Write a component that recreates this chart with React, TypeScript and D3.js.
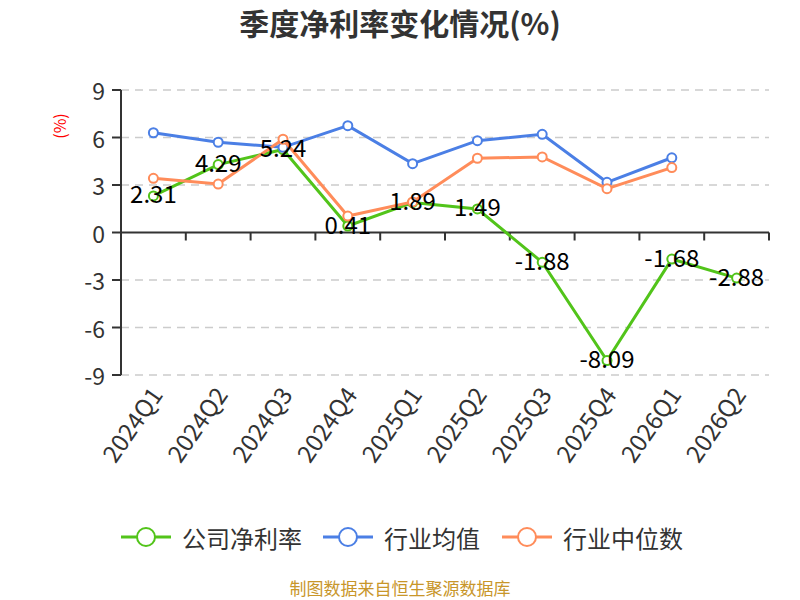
import * as d3 from 'd3';
import React, { useEffect, useRef } from 'react';

const quarters = ['2024Q1', '2024Q2', '2024Q3', '2024Q4', '2025Q1', '2025Q2', '2025Q3', '2025Q4', '2026Q1', '2026Q2'];
const companyRate = [2.31, 4.29, 5.24, 0.41, 1.89, 1.49, -1.88, -8.09, -1.68, -2.88];
const industryAvg = [6.3, 5.7, 5.38, 6.75, 4.35, 5.8, 6.2, 3.17, 4.72];
const industryMedian = [3.42, 3.06, 5.89, 1.04, 1.93, 4.69, 4.77, 2.77, 4.1];
const yTicks = [-9, -6, -3, 0, 3, 6, 9];
const seriesNames = ['公司净利率', '行业均值', '行业中位数'];
const colors = ['#52c41a', '#4b7fe5', '#ff8c5a'];

const FONT = '"Noto Sans CJK SC", "Noto Sans", sans-serif';

function App() {
  const svgRef = useRef<SVGSVGElement>(null);

  useEffect(() => {
    const w = 800;
    const h = 600;
    const left = 121;
    const right = 769;
    const top = 90;
    const bottom = 375;

    const svg = d3.select(svgRef.current).attr('width', w).attr('height', h);
    svg.selectAll('*').remove();

    const x = d3.scaleBand<string>().domain(quarters).range([left, right]);
    const y = d3.scaleLinear().domain([-9, 9]).range([bottom, top]);
    const cx = (i: number) => (x(quarters[i]) as number) + x.bandwidth() / 2;

    // title
    svg
      .append('text')
      .attr('x', 400)
      .attr('y', 22)
      .attr('text-anchor', 'middle')
      .attr('dominant-baseline', 'central')
      .attr('font-family', FONT)
      .attr('font-weight', 'bold')
      .attr('font-size', 30)
      .attr('fill', '#333')
      .text('季度净利率变化情况(%)');

    // grid
    svg
      .selectAll('.grid')
      .data(yTicks.filter((t) => t !== 0))
      .join('line')
      .attr('x1', left)
      .attr('x2', right)
      .attr('y1', (d) => y(d))
      .attr('y2', (d) => y(d))
      .attr('stroke', '#ccc')
      .attr('stroke-width', 1.5)
      .attr('stroke-dasharray', '8,6');

    // y axis
    const yAxis = svg.append('g').attr('transform', `translate(${left},0)`);
    yAxis.append('line').attr('y1', top).attr('y2', bottom).attr('stroke', '#333').attr('stroke-width', 2);
    yAxis
      .selectAll('.yt')
      .data(yTicks)
      .join('line')
      .attr('x1', -9)
      .attr('x2', 0)
      .attr('y1', (d) => y(d))
      .attr('y2', (d) => y(d))
      .attr('stroke', '#333')
      .attr('stroke-width', 2);
    yAxis
      .selectAll('.yl')
      .data(yTicks)
      .join('text')
      .attr('x', -16)
      .attr('y', (d) => y(d))
      .attr('text-anchor', 'end')
      .attr('dominant-baseline', 'central')
      .attr('font-family', FONT)
      .attr('font-size', 23)
      .attr('fill', '#333')
      .text((d) => d);

    svg
      .append('text')
      .attr('transform', `translate(59,126) rotate(-90)`)
      .attr('text-anchor', 'middle')
      .attr('dominant-baseline', 'central')
      .attr('font-family', FONT)
      .attr('font-size', 16)
      .attr('fill', 'red')
      .text('(%)');

    // x axis at zero
    const x0 = y(0);
    svg.append('line').attr('x1', left).attr('x2', right).attr('y1', x0).attr('y2', x0).attr('stroke', '#333').attr('stroke-width', 2);
    svg
      .selectAll('.xt')
      .data(d3.range(1, quarters.length + 1))
      .join('line')
      .attr('x1', (i) => left + i * x.bandwidth())
      .attr('x2', (i) => left + i * x.bandwidth())
      .attr('y1', x0)
      .attr('y2', x0 + 8)
      .attr('stroke', '#333')
      .attr('stroke-width', 2);
    svg
      .selectAll('.xl')
      .data(quarters)
      .join('text')
      .attr('transform', (d, i) => `translate(${cx(i) + 2},${bottom + 14}) rotate(-55)`)
      .attr('text-anchor', 'end')
      .attr('dominant-baseline', 'central')
      .attr('font-family', FONT)
      .attr('font-size', 24)
      .attr('fill', '#333')
      .text((d) => d);

    const line = d3
      .line<number>()
      .x((d, i) => cx(i))
      .y((d) => y(d));

    const allSeries = [companyRate, industryAvg, industryMedian];
    allSeries.forEach((data, k) => {
      svg
        .append('path')
        .datum(data)
        .attr('d', line)
        .attr('fill', 'none')
        .attr('stroke', colors[k])
        .attr('stroke-width', 3);
      svg
        .append('g')
        .selectAll('circle')
        .data(data)
        .join('circle')
        .attr('cx', (d, i) => cx(i))
        .attr('cy', (d) => y(d))
        .attr('r', 4.5)
        .attr('fill', '#fff')
        .attr('stroke', colors[k])
        .attr('stroke-width', 2);
    });

    svg
      .append('g')
      .selectAll('text')
      .data(companyRate)
      .join('text')
      .attr('x', (d, i) => cx(i))
      .attr('y', (d) => y(d) - 3)
      .attr('text-anchor', 'middle')
      .attr('dominant-baseline', 'central')
      .attr('font-family', FONT)
      .attr('font-size', 24)
      .attr('fill', '#000')
      .text((d) => d.toFixed(2));

    // legend
    const legendX = [146, 348, 527];
    const legend = svg
      .append('g')
      .selectAll('g')
      .data(seriesNames)
      .join('g')
      .attr('transform', (d, i) => `translate(${legendX[i]},537)`);
    legend
      .append('line')
      .attr('x1', -25)
      .attr('x2', 25)
      .attr('stroke', (d, i) => colors[i])
      .attr('stroke-width', 3);
    legend
      .append('circle')
      .attr('r', 9)
      .attr('fill', '#fff')
      .attr('stroke', (d, i) => colors[i])
      .attr('stroke-width', 2);
    legend
      .append('text')
      .attr('x', 36)
      .attr('dominant-baseline', 'central')
      .attr('font-family', FONT)
      .attr('font-size', 24)
      .attr('fill', '#333')
      .text((d) => d);

    svg
      .append('text')
      .attr('x', 400)
      .attr('y', 587)
      .attr('text-anchor', 'middle')
      .attr('dominant-baseline', 'central')
      .attr('font-family', FONT)
      .attr('font-size', 17)
      .attr('fill', '#c8962a')
      .text('制图数据来自恒生聚源数据库');
  }, []);

  return (
    <div>
      <svg ref={svgRef} style={{ position: 'absolute', left: 0, top: 0 }} />
    </div>
  );
}

export default App;
